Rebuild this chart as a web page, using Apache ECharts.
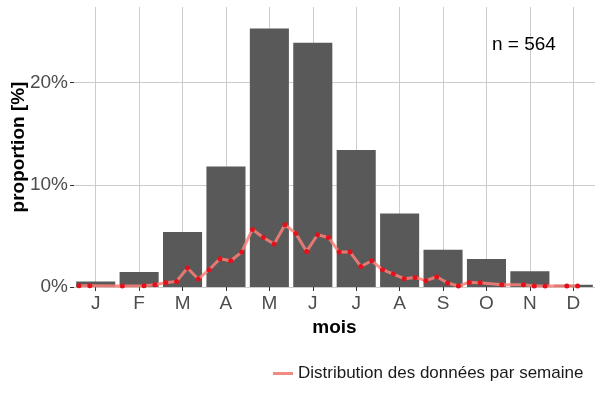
<!DOCTYPE html>
<html>
<head>
<meta charset="utf-8">
<script src="https://cdn.jsdelivr.net/npm/echarts@6/dist/echarts.min.js"></script>
<style>html,body{margin:0;padding:0;background:#fff}#c{width:600px;height:400px}</style>
</head>
<body>
<div id="c"></div>
<script>
var months = ['J','F','M','A','M','J','J','A','S','O','N','D'];
var monthlyPct = [0.55, 1.47, 5.38, 11.8, 25.3, 23.9, 13.4, 7.2, 3.65, 2.74, 1.53, 0.22];
var weeks = [1,2,5,7,8,9,10,11,12,13,14,15,16,17,18,19,20,21,22,23,24,25,26,27,28,29,30,31,32,33,34,35,36,37,38,40,42,43,44,46,47];
var weeklyPct = [0.13,0.13,0.10,0.13,0.22,0.42,0.55,1.86,0.78,1.69,2.77,2.57,3.42,5.63,4.85,4.20,6.09,5.24,3.48,5.11,4.85,3.42,3.42,2.01,2.57,1.69,1.27,0.81,0.94,0.62,1.00,0.39,0.10,0.45,0.42,0.22,0.22,0.10,0.10,0.10,0.10];
var yTicks = [0, 10, 20];
var nLabel = 'n = 564';
var xTitle = 'mois';
var yTitle = 'proportion [%]';
var legendLabel = 'Distribution des données par semaine';

var weeklyData = weeks.map(function (w, i) { return [w, weeklyPct[i]]; });
var font = 'Liberation Sans, Arial, sans-serif';

var chart = echarts.init(document.getElementById('c'), null, {renderer: 'canvas'});
chart.setOption({
  animation: false,
  backgroundColor: '#ffffff',
  textStyle: {fontFamily: font},
  grid: {left: 74, right: 5, top: 7, bottom: 113, containLabel: false, outerBoundsMode: 'none'},
  legend: {
    left: 268, top: 360,
    itemWidth: 20, itemHeight: 3, itemGap: 10,
    icon: 'rect',
    textStyle: {fontSize: 17, color: '#1a1a1a', fontFamily: font},
    data: [{name: legendLabel, itemStyle: {color: '#f28a84'}}]
  },
  xAxis: [{
    type: 'category',
    data: months,
    boundaryGap: true,
    axisLine: {show: false},
    axisTick: {show: true, alignWithLabel: true, length: 4, lineStyle: {color: '#333333', width: 1}},
    axisLabel: {fontSize: 19, color: '#4d4d4d', margin: 7, fontFamily: font},
    splitLine: {show: true, alignWithLabel: true, lineStyle: {color: '#cccccc', width: 1}},
    name: xTitle, nameLocation: 'middle', nameGap: 31,
    nameTextStyle: {fontSize: 19, fontWeight: 'bold', color: '#000000', fontFamily: font}
  }, {
    type: 'value', min: 0.54, max: 48.6,
    show: false
  }],
  yAxis: {
    type: 'value', min: 0, max: 27.4,
    axisLine: {show: false},
    axisTick: {show: true, length: 4, customValues: yTicks, lineStyle: {color: '#333333', width: 1}},
    axisLabel: {fontSize: 19, color: '#4d4d4d', margin: 6, customValues: yTicks, fontFamily: font,
      formatter: function (v) { return v + '%'; }},
    splitLine: {show: true, lineStyle: {color: '#cccccc', width: 1}}
  },
  series: [{
    type: 'bar', xAxisIndex: 0, data: monthlyPct,
    barCategoryGap: '10%',
    itemStyle: {color: '#595959'},
    z: 2
  }, {
    name: legendLabel,
    type: 'line', xAxisIndex: 1, data: weeklyData,
    showSymbol: false, symbol: 'none',
    lineStyle: {color: 'rgba(250,128,120,0.85)', width: 3},
    itemStyle: {color: '#f28a84'},
    z: 3
  }, {
    type: 'scatter', xAxisIndex: 1, data: weeklyData,
    symbolSize: 5,
    itemStyle: {color: '#e3111b', opacity: 1},
    z: 4
  }],
  graphic: [{
    type: 'text', left: 492, top: 35, z: 10,
    style: {text: nLabel, fontSize: 19, fill: '#000000', fontFamily: font}
  }, {
    type: 'text', x: 19, y: 147, rotation: Math.PI / 2, z: 10,
    style: {text: yTitle, fontSize: 19, fontWeight: 'bold', fill: '#000000', fontFamily: font,
      align: 'center', verticalAlign: 'middle'}
  }]
});
</script>
</body>
</html>
